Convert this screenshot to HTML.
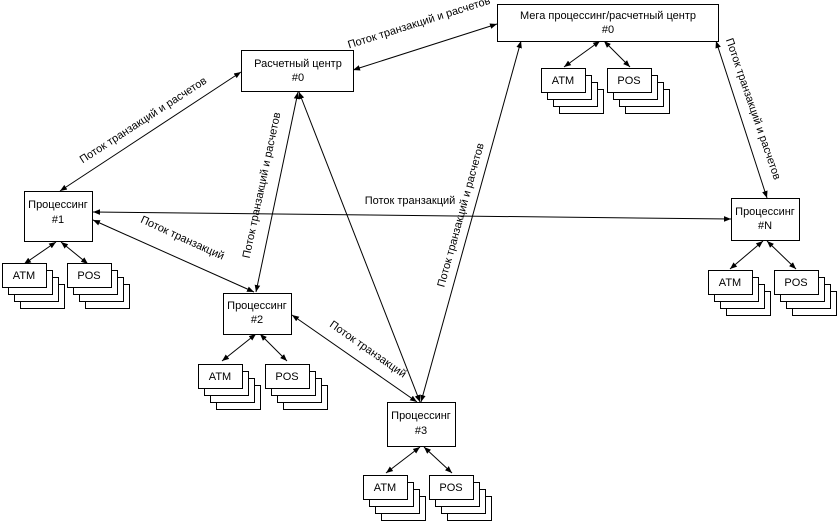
<!DOCTYPE html>
<html><head><meta charset="utf-8"><style>
html,body{margin:0;padding:0;background:#fff;width:838px;height:522px;overflow:hidden}
svg text{font-family:"Liberation Sans",Arial,sans-serif;font-size:11px;fill:#000}
</style></head><body>
<svg width="838" height="522" viewBox="0 0 838 522" xmlns="http://www.w3.org/2000/svg">
<defs>
<marker id="a" viewBox="0 0 10 10" refX="10" refY="5" markerWidth="7" markerHeight="7" orient="auto-start-reverse" markerUnits="userSpaceOnUse"><path d="M0,1 L10,5 L0,9 z" fill="#000"/></marker>
<g id="stk" fill="#fff" stroke="#000" stroke-width="1">
<rect x="18" y="21" width="44" height="24"/>
<rect x="12" y="14" width="44" height="24"/>
<rect x="6" y="7" width="44" height="24"/>
<rect x="0" y="0" width="44" height="24"/>
</g>
</defs>
<g stroke="#000" stroke-width="1" fill="none" marker-start="url(#a)" marker-end="url(#a)">
<line x1="60" y1="191" x2="241" y2="72"/>
<line x1="353" y1="70" x2="497" y2="24"/>
<line x1="716" y1="41" x2="767" y2="198"/>
<line x1="93" y1="212" x2="731" y2="219"/>
<line x1="93" y1="220" x2="254" y2="292"/>
<line x1="298" y1="92" x2="256" y2="292"/>
<line x1="299" y1="92" x2="420" y2="402"/>
<line x1="521" y1="41" x2="421" y2="402"/>
<line x1="292" y1="315" x2="417" y2="402"/>
<line x1="56" y1="242" x2="24" y2="264"/><line x1="61" y1="242" x2="88" y2="264"/>
<line x1="256" y1="334" x2="222" y2="361"/><line x1="260" y1="334" x2="287" y2="361"/>
<line x1="420" y1="447" x2="386" y2="473"/><line x1="424" y1="447" x2="452" y2="473"/>
<line x1="763" y1="241" x2="730" y2="269"/><line x1="767" y1="241" x2="796" y2="269"/>
<line x1="600" y1="41" x2="564" y2="67"/><line x1="604" y1="41" x2="630" y2="67"/>
</g>
<g fill="#fff" stroke="#000" stroke-width="1">
<rect x="241.5" y="50.5" width="112" height="41"/>
<rect x="497.5" y="4.5" width="221" height="37"/>
<rect x="24.5" y="191.5" width="68" height="50"/>
<rect x="223.5" y="293.5" width="68" height="41"/>
<rect x="387.5" y="402.5" width="68" height="44"/>
<rect x="731.5" y="198.5" width="68" height="42"/>
</g>
<g text-anchor="middle">
<text x="298" y="67">Расчетный центр</text><text x="298" y="81">#0</text>
<text x="608" y="19">Мега процессинг/расчетный центр</text><text x="608" y="33">#0</text>
<text x="58" y="208">Процессинг</text><text x="58" y="223">#1</text>
<text x="257" y="309">Процессинг</text><text x="257" y="323">#2</text>
<text x="421" y="419">Процессинг</text><text x="421" y="434">#3</text>
<text x="765" y="215">Процессинг</text><text x="765" y="229">#N</text>
</g>
<g text-anchor="middle">
<use href="#stk" x="2.5" y="263.5"/><text x="24" y="279">ATM</text>
<use href="#stk" x="67.5" y="263.5"/><text x="89" y="279">POS</text>
<use href="#stk" x="198.5" y="364.5"/><text x="220" y="380">ATM</text>
<use href="#stk" x="265.5" y="364.5"/><text x="287" y="380">POS</text>
<use href="#stk" x="363.5" y="475.5"/><text x="385" y="491">ATM</text>
<use href="#stk" x="429.5" y="475.5"/><text x="451" y="491">POS</text>
<use href="#stk" x="708.5" y="270.5"/><text x="730" y="286">ATM</text>
<use href="#stk" x="774.5" y="270.5"/><text x="796" y="286">POS</text>
<use href="#stk" x="541.5" y="68.5"/><text x="563" y="84">ATM</text>
<use href="#stk" x="607.5" y="68.5"/><text x="629" y="84">POS</text>
</g>
<g text-anchor="middle">
<text transform="translate(145,123) rotate(-33)">Поток транзакций и расчетов</text>
<text transform="translate(420,26) rotate(-17.6)">Поток транзакций и расчетов</text>
<text transform="translate(750,110) rotate(71)">Поток транзакций и расчетов</text>
<text x="410" y="204">Поток транзакций</text>
<text transform="translate(181,241) rotate(24.6)">Поток транзакций</text>
<text transform="translate(265,186) rotate(-78)">Поток транзакций и расчетов</text>
<text transform="translate(464,216) rotate(-74.5)">Поток транзакций и расчетов</text>
<text transform="translate(366,352) rotate(35)">Поток транзакций</text>
</g>
</svg>
</body></html>
